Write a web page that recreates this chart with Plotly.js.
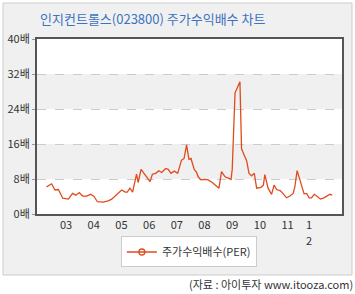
<!DOCTYPE html>
<html>
<head>
<meta charset="utf-8">
<script src="https://cdn.plot.ly/plotly-3.0.1.min.js"></script>
<style>html,body{margin:0;padding:0;background:#fff;}#chart{width:355px;height:294px;}</style>
</head>
<body>
<div id="chart"></div>
<script>
const dates = [
"2002-04-19","2002-06-25","2002-08-07","2002-09-22","2002-11-19","2003-02-01","2003-03-28","2003-05-10",
"2003-06-25","2003-08-07","2003-10-01","2003-11-22","2004-01-04","2004-02-19","2004-05-07","2004-07-10",
"2004-08-25","2004-11-01","2005-01-04","2005-02-19","2005-03-19","2005-04-22","2005-05-28","2005-07-19",
"2005-08-10","2005-09-16","2005-10-28","2005-12-01","2006-01-13","2006-02-13","2006-03-28","2006-05-10",
"2006-06-16","2006-08-07","2006-09-10","2006-10-16","2006-11-28","2007-01-13","2007-03-04","2007-04-07",
"2007-05-10","2007-06-10","2007-07-07","2007-08-19","2007-09-19","2007-10-10","2007-11-16","2008-01-07",
"2008-02-19","2008-04-13","2008-05-28","2008-07-10","2008-08-13","2008-09-28","2008-11-10","2008-12-16",
"2009-01-01","2009-02-07","2009-04-13","2009-05-04","2009-06-07","2009-07-10","2009-08-10","2009-09-13",
"2009-10-19","2009-11-19","2010-01-16","2010-02-16","2010-03-07","2010-04-19","2010-06-04","2010-07-07",
"2010-08-10","2010-10-01","2010-11-04","2010-12-19","2011-02-01","2011-03-16","2011-04-07","2011-05-07",
"2011-06-13","2011-07-04","2011-08-07","2011-09-10","2011-10-13","2011-11-13","2011-12-19","2012-01-28",
"2012-03-10","2012-04-25","2012-06-07","2012-07-13","2012-08-13"
];
const per = [
6.2,6.9,5.5,5.6,3.6,3.4,4.7,4.3,
4.9,4.1,4.1,4.5,4.0,2.8,2.7,3.0,
3.4,4.6,5.5,5.0,5.0,5.9,5.0,9.1,
7.2,10.2,9.3,8.5,7.4,9.1,9.3,9.9,
9.5,10.4,10.2,9.3,9.8,9.3,12.3,12.7,
15.8,12.5,12.7,10.2,9.5,8.5,7.8,7.9,
7.8,7.2,6.6,5.9,9.7,8.5,8.2,7.9,
10.2,27.7,30.2,14.9,13.5,12.2,9.3,8.7,
9.3,5.9,6.1,6.6,9.0,5.9,4.5,6.6,
5.6,5.3,4.6,3.7,4.1,4.7,6.2,9.9,
7.8,6.6,4.6,4.7,3.7,3.7,4.5,4.0,
3.4,3.7,4.1,4.5,4.3
];
const xTickVals = ["2003-01-01","2004-01-01","2005-01-01","2006-01-01","2007-01-01","2008-01-01","2009-01-01","2010-01-01","2011-01-01","2011-10-12"];
const xTickText = ["03","04","05","06","07","08","09","10","11","1"];
const wrappedTickTail = "2";
const yTickVals = [0,8,16,24,32,40];
const yTickText = ["0배","8배","16배","24배","32배","40배"];
const bands = [[8,16],[24,32]];
const seriesName = "주가수익배수(PER)";
const titleText = "인지컨트롤스(023800) 주가수익배수 차트";
const sourceText = "(자료 : 아이투자 www.itooza.com)";

const font = "'Noto Sans CJK KR', 'Noto Sans', sans-serif";
const shapes = [
  {type:'rect', xref:'paper', yref:'paper', x0:-0.1115, x1:1.0328, y0:-0.3486, y1:1.2057,
   fillcolor:'#f0f0f0', line:{color:'#cccccc', width:1}, layer:'below'},
  {type:'rect', xref:'paper', yref:'paper', x0:0, x1:1, y0:0, y1:1,
   fillcolor:'#ffffff', line:{width:0}, layer:'below'}
];
bands.forEach(b => shapes.push({type:'rect', xref:'paper', yref:'y', x0:0, x1:1, y0:b[0], y1:b[1],
  fillcolor:'#f0f0f0', line:{width:0}, layer:'below'}));

const trace = {
  x: dates, y: per, type:'scatter', mode:'lines', name: seriesName, showlegend:false,
  line:{color:'#e04b1d', width:1.3}
};
const legendTrace = {
  x:[null], y:[null], type:'scatter', mode:'lines+markers', name: seriesName,
  line:{color:'#e04b1d', width:1.3}, marker:{symbol:'circle-open', size:6, color:'#e04b1d', line:{width:1.3}},
  showlegend:true
};

const layout = {
  width:355, height:294,
  margin:{l:37, r:13, t:39, b:80},
  paper_bgcolor:'#ffffff', plot_bgcolor:'rgba(0,0,0,0)',
  font:{family:font, size:11, color:'#333333'},
  title:{text:titleText, font:{family:font, size:13, color:'#3b73c0'},
         xref:'paper', x:0.01, xanchor:'left', yref:'container', y:0.935, yanchor:'middle'},
  xaxis:{type:'date', range:["2001-12-14","2012-12-19"], tickmode:'array', tickvals:xTickVals, ticktext:xTickText,
         showgrid:false, showline:true, mirror:true, linecolor:'#555555', linewidth:2, ticks:'', zeroline:false,
         tickfont:{size:11, color:'#333333'}, fixedrange:true},
  yaxis:{range:[0,40], tickmode:'array', tickvals:yTickVals, ticktext:yTickText,
         showgrid:true, gridcolor:'#cccccc', griddash:'dash', gridwidth:1,
         showline:true, mirror:true, linecolor:'#555555', linewidth:2, ticks:'outside', ticklen:3, tickcolor:'#999999',
         zeroline:false, tickfont:{size:11, color:'#333333'}, fixedrange:true},
  showlegend:true,
  legend:{orientation:'h', x:0.498, y:-0.217, xanchor:'center', yanchor:'middle', itemwidth:30,
          bgcolor:'#ffffff', bordercolor:'#cccccc', borderwidth:1, font:{size:11, color:'#333333'}},
  shapes: shapes,
  annotations:[
    {text:sourceText, xref:'paper', yref:'paper', x:1.0426, y:-0.40, xanchor:'right', yanchor:'middle',
     showarrow:false, font:{size:11, color:'#333333'}},
    {text:wrappedTickTail, xref:'x', yref:'paper', x:xTickVals[xTickVals.length-1], y:-0.149, xanchor:'center', yanchor:'middle',
     showarrow:false, font:{size:11, color:'#333333'}}
  ]
};
Plotly.newPlot('chart', [trace, legendTrace], layout, {staticPlot:true, displayModeBar:false});
</script>
</body>
</html>
